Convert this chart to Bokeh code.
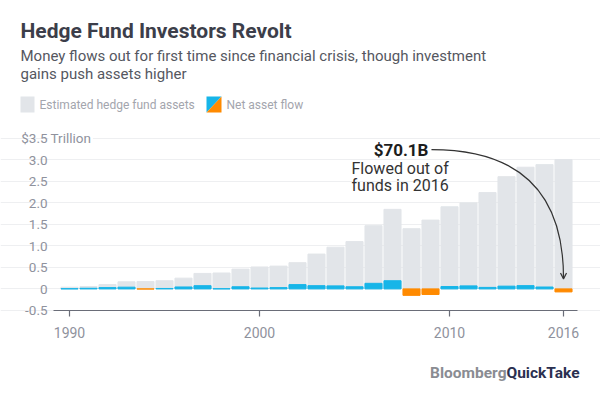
from bokeh.plotting import figure
from bokeh.models import (ColumnDataSource, FixedTicker, Label, PolyAnnotation,
                          Arrow, OpenHead)
from bokeh.embed import file_html
from bokeh.resources import INLINE

# ---------------- data ----------------
years = list(range(1990, 2017))
assets = [0.04, 0.055, 0.10, 0.165, 0.17, 0.19, 0.25, 0.36, 0.37, 0.46, 0.51, 0.53,
          0.61, 0.81, 0.97, 1.10, 1.47, 1.85, 1.40, 1.60, 1.91, 2.00, 2.24, 2.61,
          2.83, 2.89, 3.01]
flows = [0.005, 0.015, 0.03, 0.04, -0.003, 0.01, 0.045, 0.075, 0.004, 0.05, 0.02,
         0.03, 0.10, 0.075, 0.07, 0.05, 0.13, 0.19, -0.15, -0.13, 0.055, 0.07,
         0.035, 0.064, 0.076, 0.044, -0.0701]
y_ticks = [-0.5, 0, 0.5, 1.0, 1.5, 2.0, 2.5, 3.0, 3.5]
y_tick_labels = ["-0.5", "0", "0.5", "1.0", "1.5", "2.0", "2.5", "3.0", "$3.5"]
x_ticks = [1990, 2000, 2010, 2016]

title = "Hedge Fund Investors Revolt"
subtitle1 = "Money flows out for first time since financial crisis, though investment"
subtitle2 = "gains push assets higher"

GRAY = "#e2e5e9"
BLUE = "#17b5e8"
ORANGE = "#ff8a00"
FONT = "Roboto"
TICK_COLOR = "#8f929d"

W, H = 600, 399
# plot area (data extent of the chart)
X0, X1 = 1989.16, 2016.74
Y0 = -0.5

flow_colors = [BLUE if f >= 0 else ORANGE for f in flows]
src = ColumnDataSource(dict(year=years, assets=assets, flows=flows, fc=flow_colors))

# the frame covers the whole canvas; axes are pinned with fixed_location
p = figure(width=W, height=H, x_range=(1986.368, 2017.947), y_range=(-2.572, 6.707),
           output_backend="svg", toolbar_location=None, min_border=0)
p.outline_line_color = None
p.background_fill_color = "white"
p.border_fill_color = "white"

p.vbar(x="year", top="assets", bottom=0, width=0.9, color=GRAY, source=src)
p.vbar(x="year", top="flows", bottom=0, width=0.9, color="fc", source=src)

# axes
p.xgrid.visible = False
p.ygrid.grid_line_color = "#eeeff1"
p.ygrid.ticker = FixedTicker(ticks=y_ticks)
p.ygrid.bounds = (X0, X1)

p.yaxis.fixed_location = X0
p.yaxis.ticker = FixedTicker(ticks=y_ticks)
p.yaxis.major_label_overrides = {t: l for t, l in zip(y_ticks, y_tick_labels)}
p.yaxis.axis_line_color = None
p.yaxis.major_tick_line_color = None
p.yaxis.major_tick_out = 0
p.yaxis.major_tick_in = 0
p.yaxis.minor_tick_line_color = None
p.yaxis.major_label_standoff = 6
p.yaxis.major_label_text_font = FONT
p.yaxis.major_label_text_font_size = "13.5px"
p.yaxis.major_label_text_color = TICK_COLOR

p.xaxis.fixed_location = Y0
p.xaxis.bounds = (X0, X1)
p.xaxis.ticker = FixedTicker(ticks=x_ticks)
p.xaxis.axis_line_color = "#6a6d78"
p.xaxis.axis_line_width = 1.2
p.xaxis.major_tick_line_color = "#6a6d78"
p.xaxis.major_tick_line_width = 1.2
p.xaxis.major_tick_out = 6
p.xaxis.major_tick_in = 0
p.xaxis.minor_tick_line_color = None
p.xaxis.major_label_standoff = 11
p.xaxis.major_label_text_font = FONT
p.xaxis.major_label_text_font_size = "14px"
p.xaxis.major_label_text_color = TICK_COLOR

# header (screen units, y measured from the bottom of the canvas)
def header_label(x, y_top, text, size, color, bold=False, align="left"):
    return Label(x=x, y=H - y_top, x_units="screen", y_units="screen", text=text,
                 text_font=FONT, text_font_style="bold" if bold else "normal",
                 text_font_size=size, text_color=color, text_align=align,
                 text_baseline="middle")

p.add_layout(header_label(20, 30, title, "21px", "#3c3e4a", bold=True))
p.add_layout(header_label(20, 55, subtitle1, "15px", "#55575f"))
p.add_layout(header_label(20, 73, subtitle2, "15px", "#55575f"))

# legend
p.add_layout(PolyAnnotation(xs=[20, 34, 34, 20], ys=[H - 96, H - 96, H - 112, H - 112],
                            xs_units="screen", ys_units="screen",
                            fill_color=GRAY, fill_alpha=1, line_color=None))
p.add_layout(PolyAnnotation(xs=[206, 221, 206], ys=[H - 96, H - 96, H - 112],
                            xs_units="screen", ys_units="screen",
                            fill_color=BLUE, fill_alpha=1, line_color=None))
p.add_layout(PolyAnnotation(xs=[221, 221, 206], ys=[H - 96, H - 112, H - 112],
                            xs_units="screen", ys_units="screen",
                            fill_color=ORANGE, fill_alpha=1, line_color=None))
p.add_layout(header_label(39, 104, "Estimated hedge fund assets", "12px", "#a3a5ad"))
p.add_layout(header_label(226, 104, "Net asset flow", "12px", "#a3a5ad"))

# "Trillion" unit label next to the top tick
p.add_layout(Label(x=48, y=3.5, x_units="screen", y_units="data", text="Trillion",
                   text_font=FONT, text_font_size="13.5px", text_color=TICK_COLOR,
                   text_baseline="middle", background_fill_color="white",
                   padding=2))

# annotation
p.add_layout(Label(x=2007.45, y=3.22, text="$70.1B", text_font=FONT,
                   text_font_style="bold", text_font_size="17px", text_color="#1d1d1d",
                   text_align="center", text_baseline="middle"))
p.add_layout(Label(x=2007.4, y=2.80, text="Flowed out of", text_font=FONT,
                   text_font_size="16px", text_color="#333333",
                   text_align="center", text_baseline="middle"))
p.add_layout(Label(x=2007.4, y=2.40, text="funds in 2016", text_font=FONT,
                   text_font_size="16px", text_color="#333333",
                   text_align="center", text_baseline="middle"))
p.quadratic(x0=2009.05, y0=3.24, x1=2016, y1=0.25, cx=2016, cy=3.24,
            line_color="#333333", line_width=1.2)
p.add_layout(Arrow(end=OpenHead(size=6, line_color="#333333", line_width=1.2),
                   x_start=2016, y_start=0.35, x_end=2016, y_end=0.23,
                   line_color="#333333", line_width=1.2))

# logo
p.add_layout(header_label(506, 372.5, "Bloomberg", "15.5px", "#8a8c92", bold=True,
                          align="right"))
p.add_layout(header_label(506, 372.5, "QuickTake", "15.5px", "#2b3050", bold=True))

open("out.html", "w").write(file_html(p, INLINE))
